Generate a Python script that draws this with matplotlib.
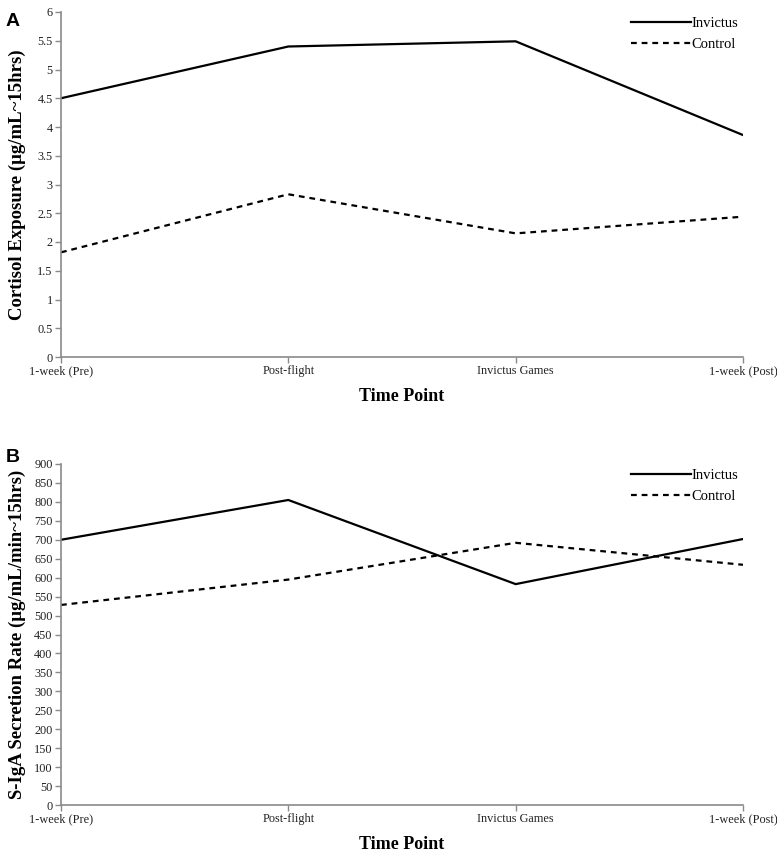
import matplotlib
matplotlib.use("Agg")
import matplotlib.pyplot as plt
from matplotlib.ticker import FuncFormatter

time_points = ["1-week (Pre)", "Post-flight", "Invictus Games", "1-week (Post)"]
series_names = ["Invictus", "Control"]

cortisol_invictus = [4.50, 5.40, 5.49, 3.86]
cortisol_control = [1.82, 2.83, 2.15, 2.44]

siga_invictus = [700, 805, 583, 702]
siga_control = [528, 595, 692, 634]

cortisol_ticks = [0, 0.5, 1, 1.5, 2, 2.5, 3, 3.5, 4, 4.5, 5, 5.5, 6]
siga_ticks = list(range(0, 901, 50))

W, H = 777, 856
fig = plt.figure(figsize=(W / 100, H / 100), dpi=100)

serif = ["Liberation Serif", "DejaVu Serif"]
spine_col = "#8a8a8a"


def px_axes(left, top, right, bottom):
    return fig.add_axes([left / W, 1 - bottom / H, (right - left) / W, (bottom - top) / H])


def style(ax, yticks, ylabel):
    x = list(range(len(time_points)))
    ax.set_xlim(0, len(time_points) - 1)
    ax.set_ylim(yticks[0], yticks[-1])
    ax.set_xticks(x)
    ax.set_xticklabels(time_points, fontfamily=serif, fontsize=8.8)
    ax.set_yticks(yticks)
    ax.yaxis.set_major_formatter(FuncFormatter(lambda v, p: f"{v:g}"))
    for lab in ax.get_yticklabels():
        lab.set_fontfamily(serif)
        lab.set_fontsize(8.8)
    for s in ["top", "right"]:
        ax.spines[s].set_visible(False)
    for s in ["left", "bottom"]:
        ax.spines[s].set_color(spine_col)
        ax.spines[s].set_linewidth(1.2)
    ax.tick_params(axis="both", direction="out", length=4, width=1, color=spine_col,
                   labelcolor="#222222", pad=2)
    ax.set_xlabel("Time Point", fontfamily=serif, fontsize=13, fontweight="bold")
    ax.set_ylabel(ylabel, fontfamily=serif, fontsize=13.5, fontweight="bold")
    ax.yaxis.set_label_coords(-0.052, 0.5)


def draw(ax, inv, con):
    x = list(range(len(time_points)))
    ax.plot(x, inv, color="black", lw=1.6, label=series_names[0], solid_joinstyle="miter")
    ax.plot(x, con, color="black", lw=1.6, linestyle=(0, (2.6, 2.2)), label=series_names[1])
    ax.legend(loc="upper right", bbox_to_anchor=(1.0, 1.0), frameon=False,
              handlelength=4.1, handletextpad=0.0, borderaxespad=0.0, borderpad=0.35,
              labelspacing=0.5, prop={"family": serif, "size": 10.5})


# Panel A
axA = px_axes(61, 12, 743, 357)
draw(axA, cortisol_invictus, cortisol_control)
style(axA, cortisol_ticks, "Cortisol Exposure (μg/mL~15hrs)")
axA.xaxis.set_label_coords(0.5, -(388 - 357) / (357 - 12))

# Panel B
axB = px_axes(61, 464, 743, 805)
draw(axB, siga_invictus, siga_control)
style(axB, siga_ticks, "S-IgA Secretion Rate (μg/mL/min~15hrs)")
axB.xaxis.set_label_coords(0.5, -(836 - 805) / (805 - 464))

fig.text(13 / W, 1 - 22 / H, "A", fontfamily=["Liberation Sans", "DejaVu Sans"], fontsize=14,
         fontweight="bold", ha="center", va="center")
fig.text(13 / W, 1 - 457 / H, "B", fontfamily=["Liberation Sans", "DejaVu Sans"], fontsize=14,
         fontweight="bold", ha="center", va="center")

fig.savefig("out.png", dpi=100)
